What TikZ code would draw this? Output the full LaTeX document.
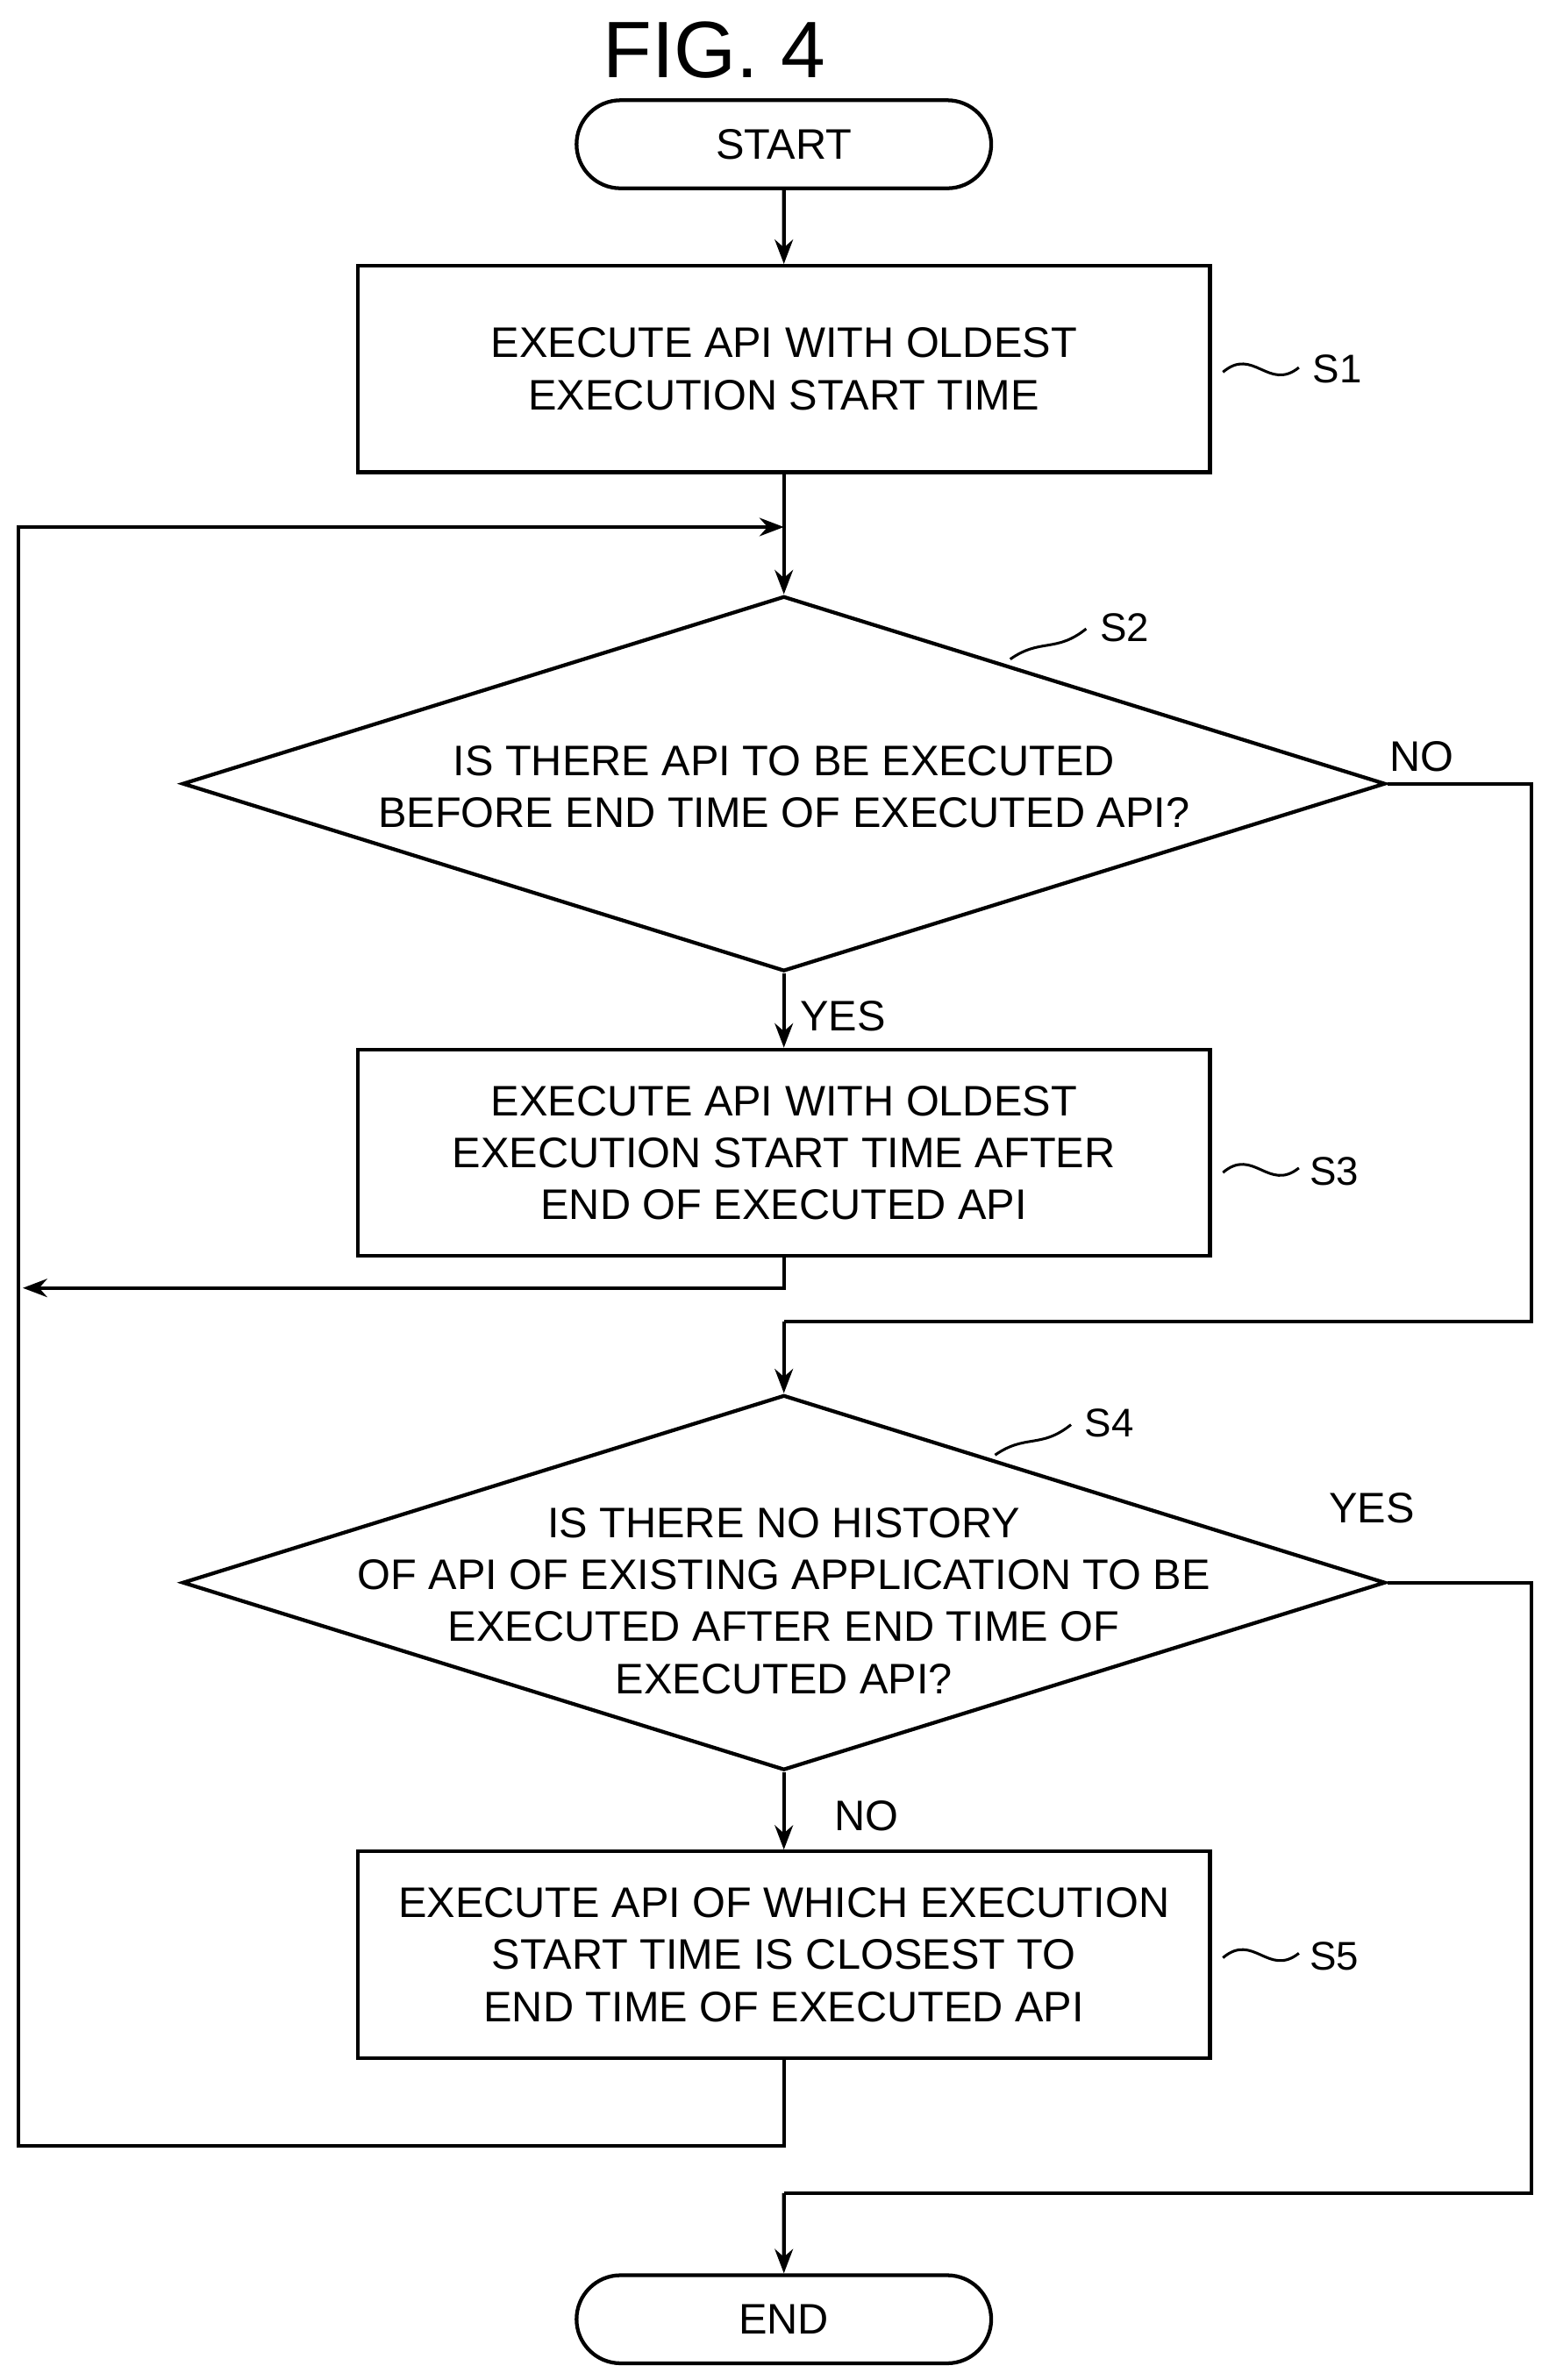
\documentclass[tikz,border=0pt]{standalone}
\usepackage{fontspec}
\setmainfont{Liberation Sans}
\usetikzlibrary{shapes.geometric,shapes.misc,arrows.meta}
\begin{document}
\begin{tikzpicture}[x=0.02cm,y=-0.02cm,line width=1.4pt,
    every node/.style={font=\fontsize{16}{19.5}\selectfont,align=center},
    term/.style={draw,rounded rectangle,minimum width=5.46cm,minimum height=1.16cm,inner sep=0pt},
    process/.style={draw,rectangle,minimum width=11.22cm,minimum height=2.72cm,inner sep=0pt},
    decision/.style={draw,diamond,aspect=3.2,minimum width=15.84cm,minimum height=4.94cm,inner sep=0pt},
    flow/.style={-{Stealth[length=0.32cm,width=0.24cm]}},
    tag/.style={font=\fontsize{15}{18}\selectfont}]
\useasboundingbox (0,0) rectangle (1024,1567);

\node[font=\fontsize{30}{34}\selectfont] (title) at (470,33) {FIG. 4};

\node[term] (start) at (516,95) {START};
\node[process] (s1) at (516,243) {EXECUTE API WITH OLDEST\\EXECUTION START TIME};
\node[decision] (s2) at (516,516) {};
\node (s2t) at (516,518) {IS THERE API TO BE EXECUTED\\BEFORE END TIME OF EXECUTED API?};
\node[process] (s3) at (516,759) {EXECUTE API WITH OLDEST\\EXECUTION START TIME AFTER\\END OF EXECUTED API};
\node[decision] (s4) at (516,1042) {};
\node (s4t) at (516,1054) {IS THERE NO HISTORY\\OF API OF EXISTING APPLICATION TO BE\\EXECUTED AFTER END TIME OF\\EXECUTED API?};
\node[process] (s5) at (516,1287) {EXECUTE API OF WHICH EXECUTION\\START TIME IS CLOSEST TO\\END TIME OF EXECUTED API};
\node[term] (end) at (516,1527) {END};

% join points
\coordinate (m1) at (516,347);
\coordinate (m2) at (516,870);
\coordinate (m3) at (516,1444);

% connectors
\draw[flow] (start) -- (s1);
\draw[flow] (s1) -- (s2);
\draw[flow] (s2) -- node[right,xshift=2pt,yshift=-2pt] {YES} (s3);
\draw[flow] (s3.south) |- (15,848);
\draw (s2.east) -| (1008,870) -- (m2);
\node at (936,498) {NO};
\draw[flow] (m2) -- (s4);
\draw[flow] (s4) -- node[right,xshift=15pt,yshift=-2pt] {NO} (s5);
\draw[flow] (s5.south) |- (12,1413) |- (m1);
\draw (s4.east) -| (1008,1444) -- (m3);
\node at (903,993) {YES};
\draw[flow] (m3) -- (end);

% step labels
\draw[line width=1pt] (805,245) .. controls (825,228) and (835,258) .. (855,242);
\node[tag,anchor=west] (l1) at (857,243) {S1};
\draw[line width=1pt] (665,434) .. controls (685,420) and (695,430) .. (715,414);
\node[tag,anchor=west] (l2) at (717,413) {S2};
\draw[line width=1pt] (805,772) .. controls (825,755) and (835,785) .. (855,769);
\node[tag,anchor=west] (l3) at (855,771) {S3};
\draw[line width=1pt] (655,958) .. controls (675,944) and (685,954) .. (705,938);
\node[tag,anchor=west] (l4) at (707,937) {S4};
\draw[line width=1pt] (805,1289) .. controls (825,1272) and (835,1302) .. (855,1286);
\node[tag,anchor=west] (l5) at (855,1288) {S5};
\end{tikzpicture}
\end{document}
